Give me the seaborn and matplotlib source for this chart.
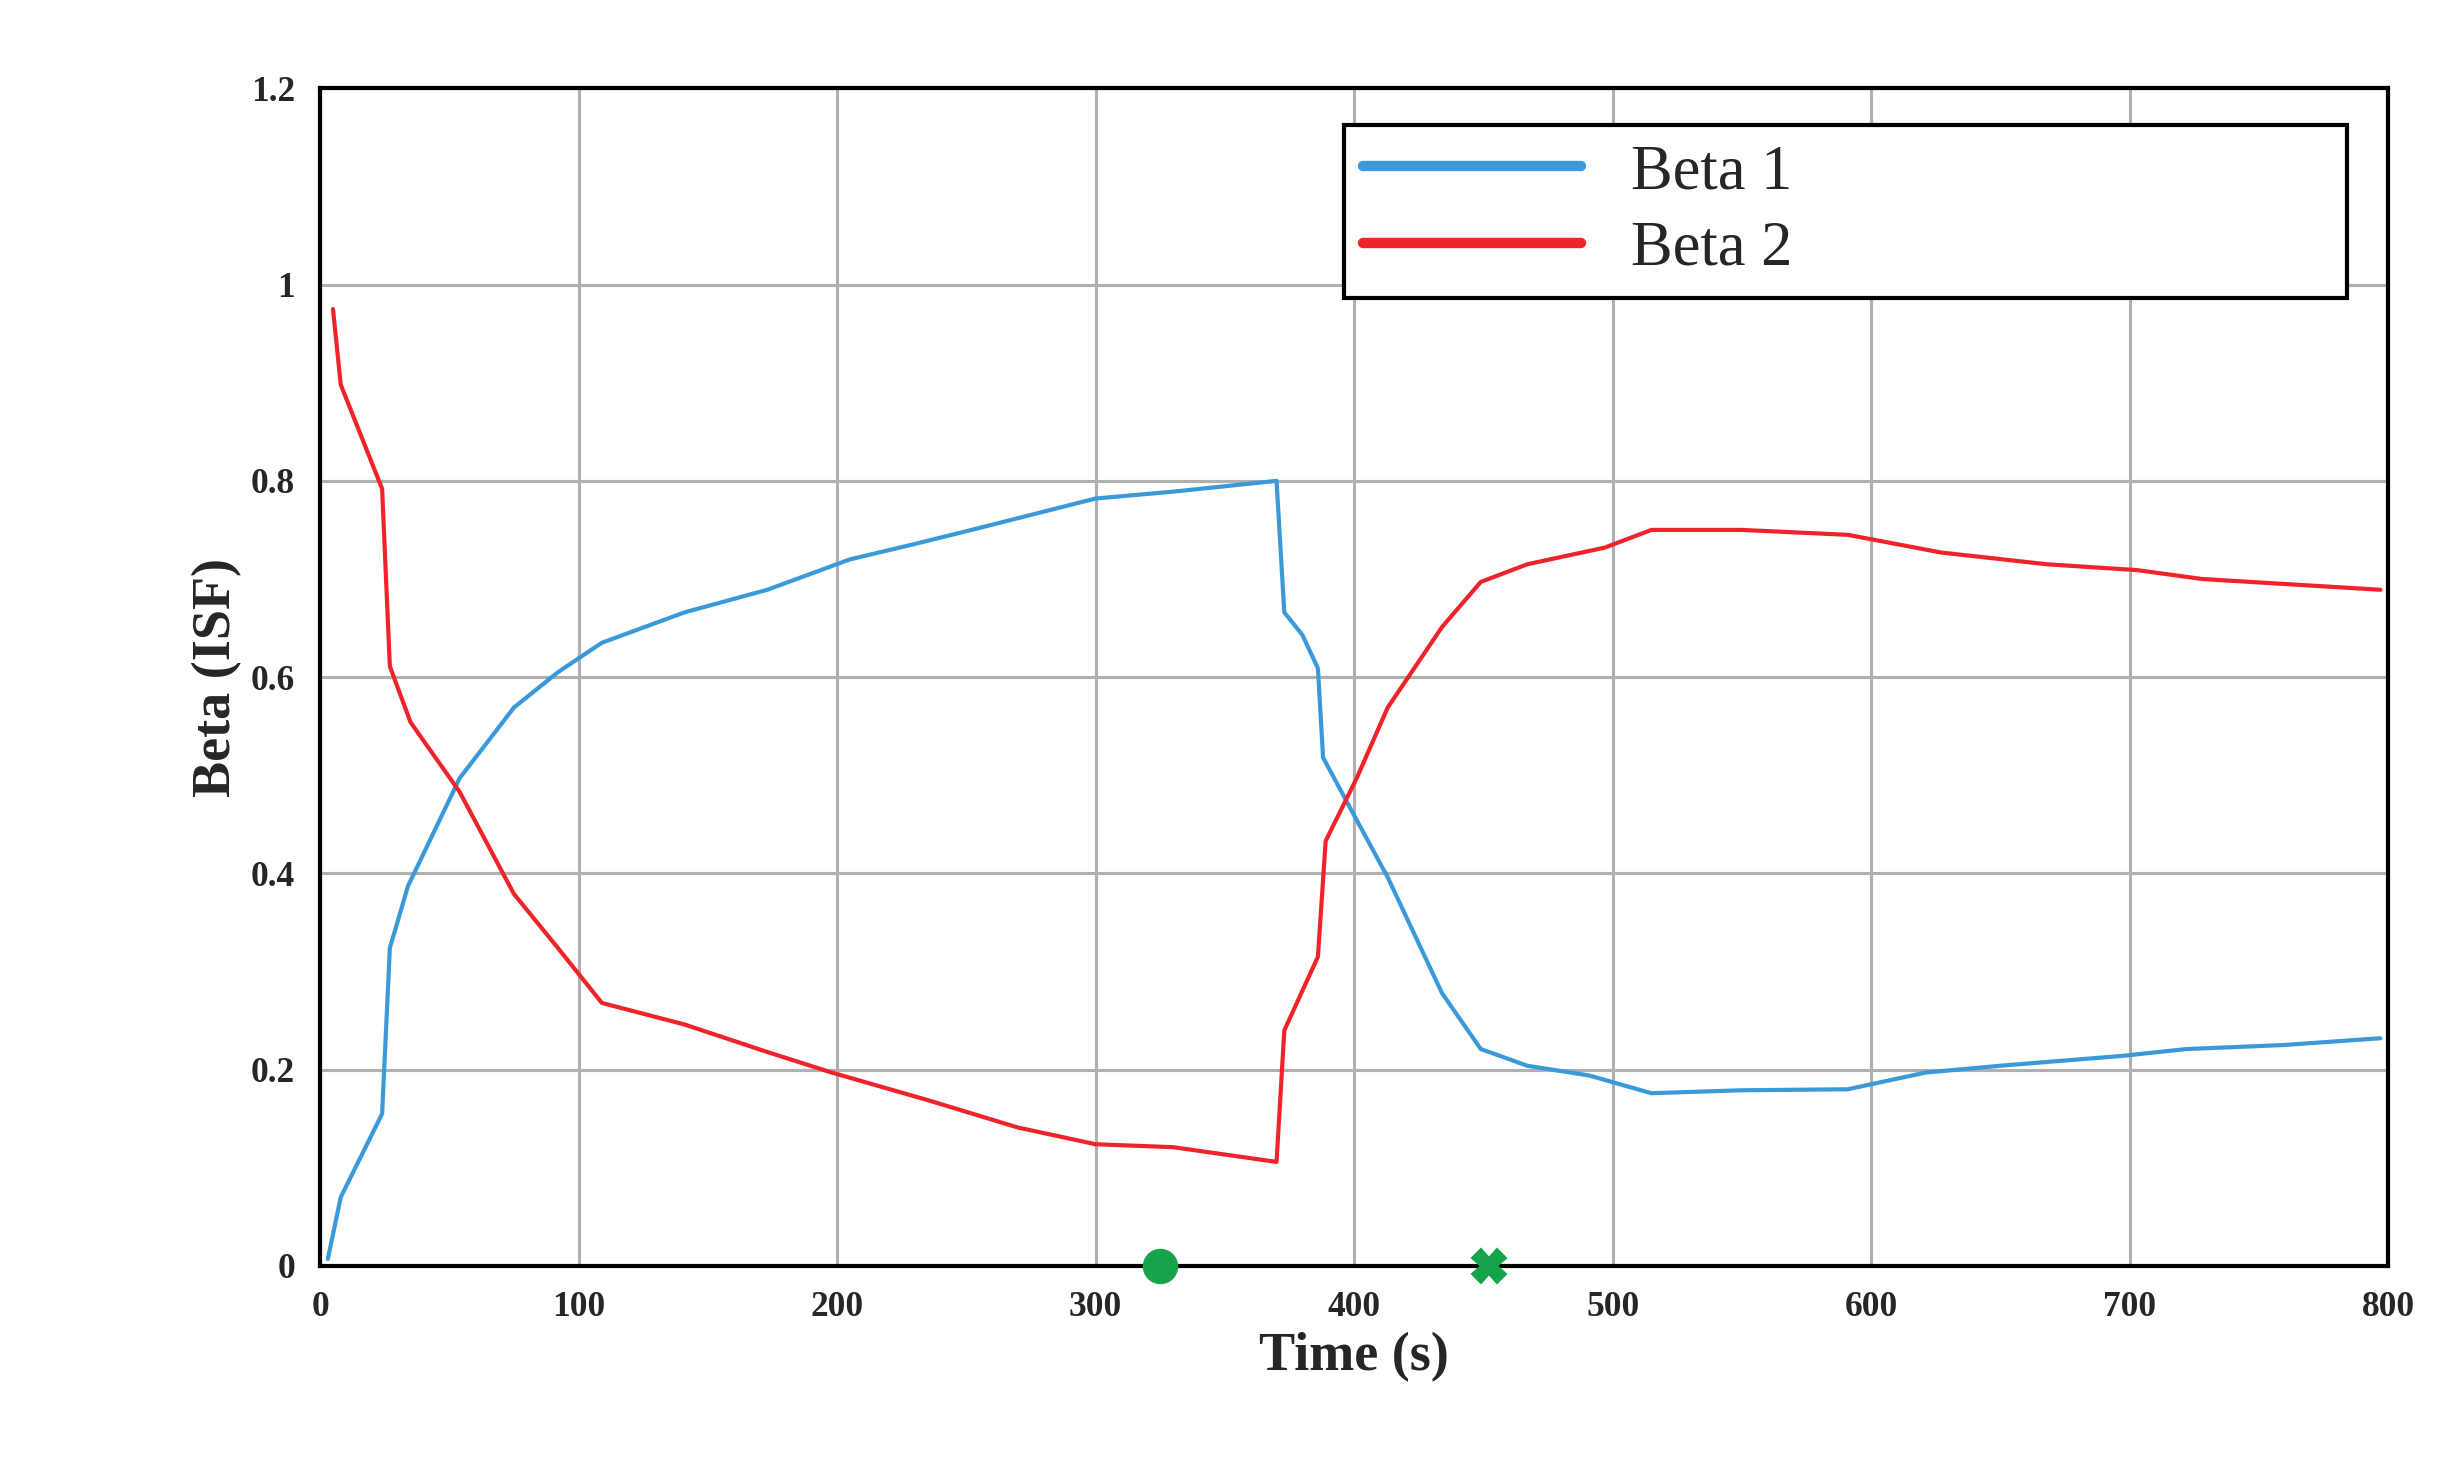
import matplotlib
matplotlib.use("Agg")
import matplotlib.pyplot as plt
import seaborn as sns
import pandas as pd

beta1_t = [3, 8, 24, 27, 34, 54, 75, 92, 109, 141, 173, 205, 229, 252, 276, 300, 330, 370,
           373, 380, 386, 388, 398, 413, 434, 449, 467, 491, 515, 550, 591, 621, 650, 697, 722, 759, 797]
beta1 = [0.007, 0.07, 0.155, 0.324, 0.387, 0.497, 0.569, 0.605, 0.635, 0.666, 0.689, 0.72, 0.735,
         0.75, 0.766, 0.782, 0.789, 0.80, 0.666, 0.643, 0.609, 0.518, 0.469, 0.396, 0.278, 0.221,
         0.204, 0.194, 0.176, 0.179, 0.180, 0.197, 0.204, 0.214, 0.221, 0.225, 0.232]

beta2_t = [5, 8, 24, 27, 35, 54, 75, 92, 109, 141, 173, 198, 235, 270, 300, 330, 370,
           373, 386, 389, 401, 413, 434, 449, 467, 497, 515, 550, 591, 627, 668, 703, 728, 797]
beta2 = [0.975, 0.898, 0.792, 0.611, 0.554, 0.483, 0.379, 0.324, 0.268, 0.246, 0.218, 0.197,
         0.169, 0.141, 0.124, 0.121, 0.106, 0.24, 0.315, 0.433, 0.497, 0.569, 0.651, 0.697,
         0.715, 0.732, 0.75, 0.75, 0.745, 0.727, 0.715, 0.709, 0.70, 0.689]

circle_t = 325
cross_t = 452

df = pd.concat([
    pd.DataFrame({"t": beta1_t, "v": beta1, "s": "Beta 1"}),
    pd.DataFrame({"t": beta2_t, "v": beta2, "s": "Beta 2"}),
])

sns.set_style("white")
plt.rcParams["font.family"] = ["Liberation Serif", "DejaVu Serif"]

fig, ax = plt.subplots(figsize=(2462 / 150, 1472 / 150), dpi=150)
sns.lineplot(data=df, x="t", y="v", hue="s", palette=["#3a9ad9", "#f0232a"],
             sort=False, estimator=None, linewidth=2, ax=ax)

ax.plot([circle_t], [0], "o", color="#17a34a", markersize=16, clip_on=False, zorder=5)
ax.plot([cross_t], [0], "X", color="#17a34a", markersize=16, clip_on=False, zorder=5)

ax.set_xlim(0, 800)
ax.set_ylim(0, 1.2)
ax.set_xticks(range(0, 801, 100))
ax.set_yticks([0, 0.2, 0.4, 0.6, 0.8, 1, 1.2])
ax.set_yticklabels(["0", "0.2", "0.4", "0.6", "0.8", "1", "1.2"])
ax.grid(True, color="#b0b0b0", linewidth=1.5)
for sp in ax.spines.values():
    sp.set_color("black")
    sp.set_linewidth(2)
ax.tick_params(labelsize=17, length=0, pad=12)
for lab in ax.get_xticklabels() + ax.get_yticklabels():
    lab.set_fontweight("bold")
ax.set_xlabel("Time (s)", fontsize=26, fontweight="bold")
ax.set_ylabel("Beta (ISF)", fontsize=26, fontweight="bold")

leg = ax.legend(title=None, loc="upper left", fontsize=30, fancybox=False,
                framealpha=1, edgecolor="black", borderpad=0.3, handlelength=3.5,
                labelspacing=0.3, bbox_to_anchor=(0.48, 0.995, 0.515, 0.0), mode="expand")
leg.get_frame().set_linewidth(2)
for line in leg.get_lines():
    line.set_linewidth(5)

plt.subplots_adjust(left=0.13, right=0.97, top=0.94, bottom=0.14)
fig.savefig("out.png", dpi=150)
